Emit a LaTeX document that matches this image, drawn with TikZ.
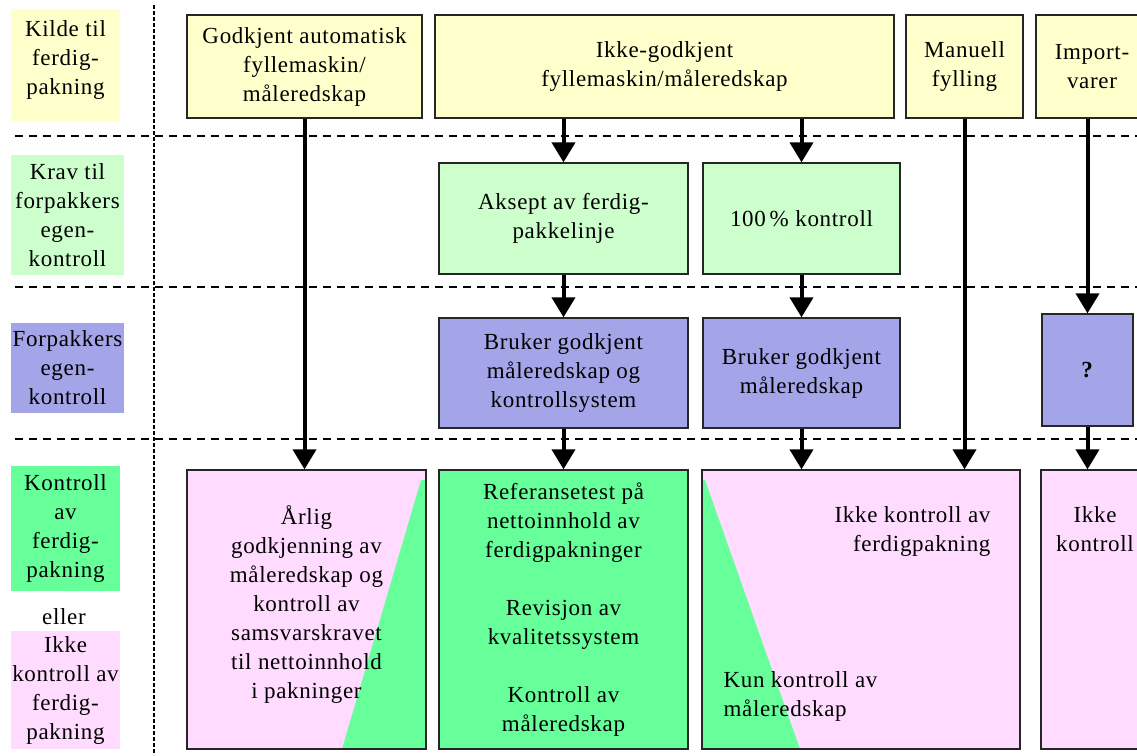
\documentclass[tikz,border=0pt]{standalone}
\usepackage{fontspec}
\setmainfont[LetterSpace=3]{Liberation Serif}
\usetikzlibrary{arrows.meta}

\definecolor{kildeyellow}{RGB}{255,255,204}
\definecolor{kravgreen}{RGB}{204,255,204}
\definecolor{egenblue}{RGB}{164,164,232}
\definecolor{kontrollgreen}{RGB}{102,255,153}
\definecolor{ikkepink}{RGB}{255,220,255}

\tikzset{
  box/.style={draw=black!85, line width=1.3pt, align=center, inner sep=2pt},
  tag/.style={align=center, inner sep=0pt},
  flowarrow/.style={line width=4pt, -{Triangle[length=20pt,width=23pt]}},
  rowline/.style={line width=1.3pt, dash pattern=on 8pt off 6pt},
  sideline/.style={line width=1.3pt, dash pattern=on 4pt off 2pt},
}

\begin{document}
\begin{tikzpicture}[x=1pt, y=-1pt, font=\fontsize{23}{29}\selectfont]
		\useasboundingbox (0,0) rectangle (1137,755);
		\clip (0,0) rectangle (1137,755);
		% row separators
		\draw[rowline] (15,136) -- (1137,136);
		\draw[rowline] (15,287) -- (1137,287);
		\draw[rowline] (15,439) -- (1137,439);
		% column separator
		\draw[sideline] (154,5) -- (154,755);
		% row titles
		\node[tag, fill=kildeyellow, minimum width=109pt, minimum height=112pt] (kilde) at (65.5,65) {Kilde til\\ferdig-\\pakning\\[-14pt]};
		\node[tag, fill=kravgreen, minimum width=113pt, minimum height=120pt] (krav) at (67.5,215) {Krav til\\forpakkers\\egen-\\kontroll};
		\node[tag, fill=egenblue, minimum width=113pt, minimum height=90pt] (egen) at (67.5,368) {Forpakkers\\egen-\\kontroll};
		\node[tag, fill=kontrollgreen, minimum width=109pt, minimum height=125pt] (kontrolltag) at (65.5,528) {Kontroll\\av\\ferdig-\\pakning};
		\node[tag] (eller) at (64,617) {eller};
		\node[tag, fill=ikkepink, minimum width=109pt, minimum height=118pt] (ikketag) at (65.5,690) {Ikke\\kontroll av\\ferdig-\\pakning};
		% sources
		\node[box, fill=kildeyellow, minimum width=235pt, minimum height=103pt] (auto) at (304.5,66.5) {Godkjent automatisk\\fyllemaskin/\\måleredskap};
		\node[box, fill=kildeyellow, minimum width=459pt, minimum height=103pt] (ikkegodkj) at (664.5,66.5) {Ikke-godkjent\\fyllemaskin/måleredskap};
		\node[box, fill=kildeyellow, minimum width=117pt, minimum height=103pt] (manuell) at (964.5,66.5) {Manuell\\fylling};
		\node[box, fill=kildeyellow, minimum width=112pt, minimum height=103pt] (import) at (1092,66.5) {Import-\\varer};
		% requirements
		\node[box, fill=kravgreen, minimum width=249pt, minimum height=111pt] (aksept) at (563.5,218.5) {Aksept av ferdig-\\pakkelinje};
		\node[box, fill=kravgreen, minimum width=197pt, minimum height=111pt] (hundre) at (801.5,218.5) {100\,\% kontroll};
		% own control
		\node[box, fill=egenblue, minimum width=249pt, minimum height=110pt] (system) at (563.5,373) {Bruker godkjent\\måleredskap og\\kontrollsystem};
		\node[box, fill=egenblue, minimum width=197pt, minimum height=110pt] (maaler) at (801.5,373) {Bruker godkjent\\måleredskap};
		\node[box, fill=egenblue, minimum width=91pt, minimum height=112pt] (ukjent) at (1087.5,370) {\textbf{?}};
		% control of packages
		\node[box, fill=ikkepink, minimum width=239pt, minimum height=279pt,
			path picture={\fill[kontrollgreen] ([xshift=-5pt,yshift=-10pt]path picture bounding box.north east)
				-- ([yshift=-10pt]path picture bounding box.north east) -- (path picture bounding box.south east)
				-- ([xshift=-84pt]path picture bounding box.south east) -- cycle;}]
			(aarlig) at (306.5,609.5) {Årlig\\godkjenning av\\måleredskap og\\kontroll av\\samsvarskravet\\til nettoinnhold\\i pakninger\\[-14pt]};
		\node[box, fill=kontrollgreen, minimum width=249pt, minimum height=279pt] (kontroll) at (563.5,609.5)
			{Referansetest på\\nettoinnhold av\\ferdigpakninger\\[29pt]Revisjon av\\kvalitetssystem\\[29pt]Kontroll av\\måleredskap};
		\node[box, fill=ikkepink, minimum width=318pt, minimum height=279pt,
			path picture={\fill[kontrollgreen] ([xshift=3pt,yshift=-10pt]path picture bounding box.north west)
				-- ([xshift=98pt]path picture bounding box.south west) -- (path picture bounding box.south west)
				-- ([yshift=-10pt]path picture bounding box.north west) -- cycle;}]
			(kunmaal) at (861,609.5) {};
		\node[box, fill=ikkepink, minimum width=108pt, minimum height=279pt] (ikkek) at (1095,609.5) {};
		\node[tag, anchor=north east, align=right] (ikketekst) at ([xshift=-30pt,yshift=-37pt]kunmaal.north east) {Ikke kontroll av\\ferdigpakning};
		\node[tag, anchor=north west, align=left] (kuntekst) at ([xshift=22pt,yshift=78pt]kunmaal.south west) {Kun kontroll av\\måleredskap};
		\node[tag, anchor=north] (ikkektekst) at ([yshift=-37pt]ikkek.north) {Ikke\\kontroll};
		% the flows
		\draw[flowarrow] (auto) -- (auto |- aarlig.north);
		\draw[flowarrow] (ikkegodkj.south -| aksept) -- (aksept);
		\draw[flowarrow] (ikkegodkj.south -| hundre) -- (hundre);
		\draw[flowarrow] (aksept) -- (system);
		\draw[flowarrow] (hundre) -- (maaler);
		\draw[flowarrow] (system) -- (kontroll);
		\draw[flowarrow] (maaler) -- (maaler |- kunmaal.north);
		\draw[flowarrow] (manuell) -- (manuell |- kunmaal.north);
		\draw[flowarrow] (import.south -| ukjent) -- (ukjent);
		\draw[flowarrow] (ukjent) -- (ukjent |- ikkek.north);
	\end{tikzpicture}
\end{document}
